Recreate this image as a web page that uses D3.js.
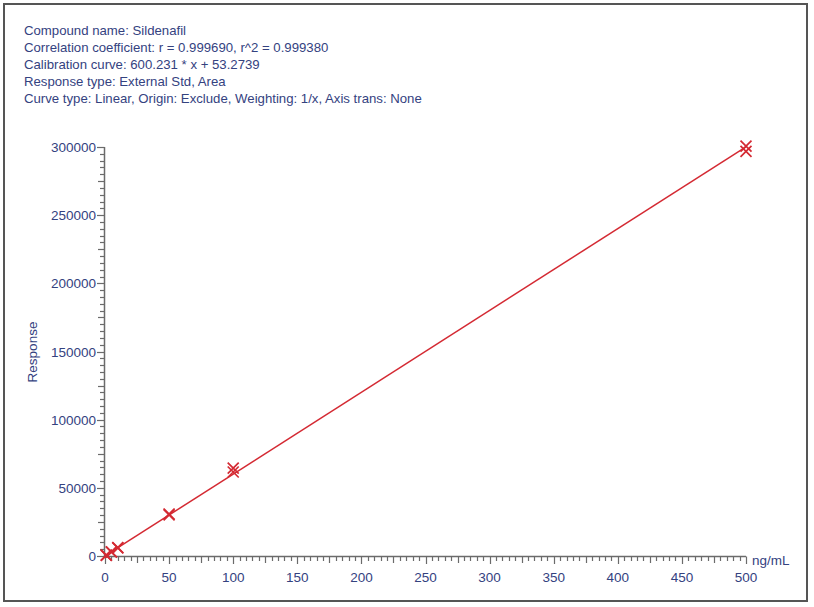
<!DOCTYPE html>
<html><head><meta charset="utf-8">
<script src="https://cdn.jsdelivr.net/npm/d3@7"></script>
<style>
html,body{margin:0;padding:0;background:#fff;}
svg text{font-family:"Liberation Sans",Arial,sans-serif;}
</style></head>
<body>
<svg id="c" width="814" height="607"></svg>
<script>
const headerLines = [
  "Compound name: Sildenafil",
  "Correlation coefficient: r = 0.999690, r^2 = 0.999380",
  "Calibration curve: 600.231 * x + 53.2739",
  "Response type: External Std, Area",
  "Curve type: Linear, Origin: Exclude, Weighting: 1/x, Axis trans: None"
];
const slope = 600.231;
const intercept = 53.2739;
const concentrations = [1, 1, 5, 5, 10, 10, 50, 50, 100, 100, 500, 500];
const responses = [650, 500, 3100, 2900, 6200, 5900, 30800, 30200, 64500, 61600, 300600, 296800];
const xTicks = [0, 50, 100, 150, 200, 250, 300, 350, 400, 450, 500];
const yTicks = [0, 50000, 100000, 150000, 200000, 250000, 300000];
const xUnit = "ng/mL";
const yTitle = "Response";

const svg = d3.select("#c");
const textCol = "#34427f";
const axisCol = "#6b6b6b";
const red = "#d42a33";

svg.append("rect").attr("x", 4).attr("y", 4).attr("width", 803).attr("height", 597)
  .attr("fill", "#fff").attr("stroke", "#555").attr("stroke-width", 2);

svg.append("g").selectAll("text").data(headerLines).join("text")
  .attr("x", 24).attr("y", (d, i) => 34.5 + i * 17)
  .attr("font-size", 13.2).attr("fill", textCol).text(d => d);

const x = d3.scaleLinear().domain([0, 500]).range([105, 746]);
const y = d3.scaleLinear().domain([0, 300000]).range([556, 147]);

// axes lines
svg.append("line").attr("x1", 104.5).attr("x2", 104.5).attr("y1", y(300000)).attr("y2", y(0))
  .attr("stroke", axisCol).attr("stroke-width", 1.5);
svg.append("line").attr("x1", 104.5).attr("x2", x(500)).attr("y1", 556.5).attr("y2", 556.5)
  .attr("stroke", axisCol).attr("stroke-width", 1.5);

// y ticks (minor every 5000)
const yMinor = d3.range(0, 300001, 5000);
svg.append("g").selectAll("line").data(yMinor).join("line")
  .attr("x1", d => d % 50000 === 0 ? 97 : (d % 25000 === 0 ? 98 : 100))
  .attr("x2", 104.5)
  .attr("y1", d => Math.round(y(d)) + 0.5).attr("y2", d => Math.round(y(d)) + 0.5)
  .attr("stroke", axisCol).attr("stroke-width", 1.2);
svg.append("g").selectAll("text").data(yTicks).join("text")
  .attr("x", 96).attr("y", d => y(d) + 5).attr("text-anchor", "end")
  .attr("font-size", 13.5).attr("fill", textCol).text(d => d);

// x ticks (minor every 5)
const xMinor = d3.range(0, 501, 5);
svg.append("g").selectAll("line").data(xMinor).join("line")
  .attr("x1", d => Math.round(x(d)) + 0.5).attr("x2", d => Math.round(x(d)) + 0.5)
  .attr("y1", 556.5)
  .attr("y2", d => d % 50 === 0 ? 564 : (d % 25 === 0 ? 563 : 561))
  .attr("stroke", axisCol).attr("stroke-width", 1.2);
svg.append("g").selectAll("text").data(xTicks).join("text")
  .attr("x", d => x(d)).attr("y", 582).attr("text-anchor", "middle")
  .attr("font-size", 13.5).attr("fill", textCol).text(d => d);

svg.append("text").attr("x", 752).attr("y", 565).attr("font-size", 13.5)
  .attr("fill", textCol).text(xUnit);
svg.append("text").attr("transform", "translate(37,352) rotate(-90)")
  .attr("text-anchor", "middle").attr("font-size", 13.5).attr("fill", textCol).text(yTitle);

// fit line
const lineData = [0, 500].map(c => [c, slope * c + intercept]);
svg.append("path").datum(lineData)
  .attr("d", d3.line().x(d => x(d[0])).y(d => y(d[1])))
  .attr("stroke", red).attr("stroke-width", 1.5).attr("fill", "none");

// crosses
const s = 5.5;
const pts = concentrations.map((c, i) => [c, responses[i]]);
svg.append("g").selectAll("path").data(pts).join("path")
  .attr("d", d => {
    const px = x(d[0]), py = y(d[1]);
    return `M${px - s},${py - s}L${px + s},${py + s}M${px - s},${py + s}L${px + s},${py - s}`;
  })
  .attr("stroke", red).attr("stroke-width", 1.7).attr("fill", "none");
</script>
</body></html>
